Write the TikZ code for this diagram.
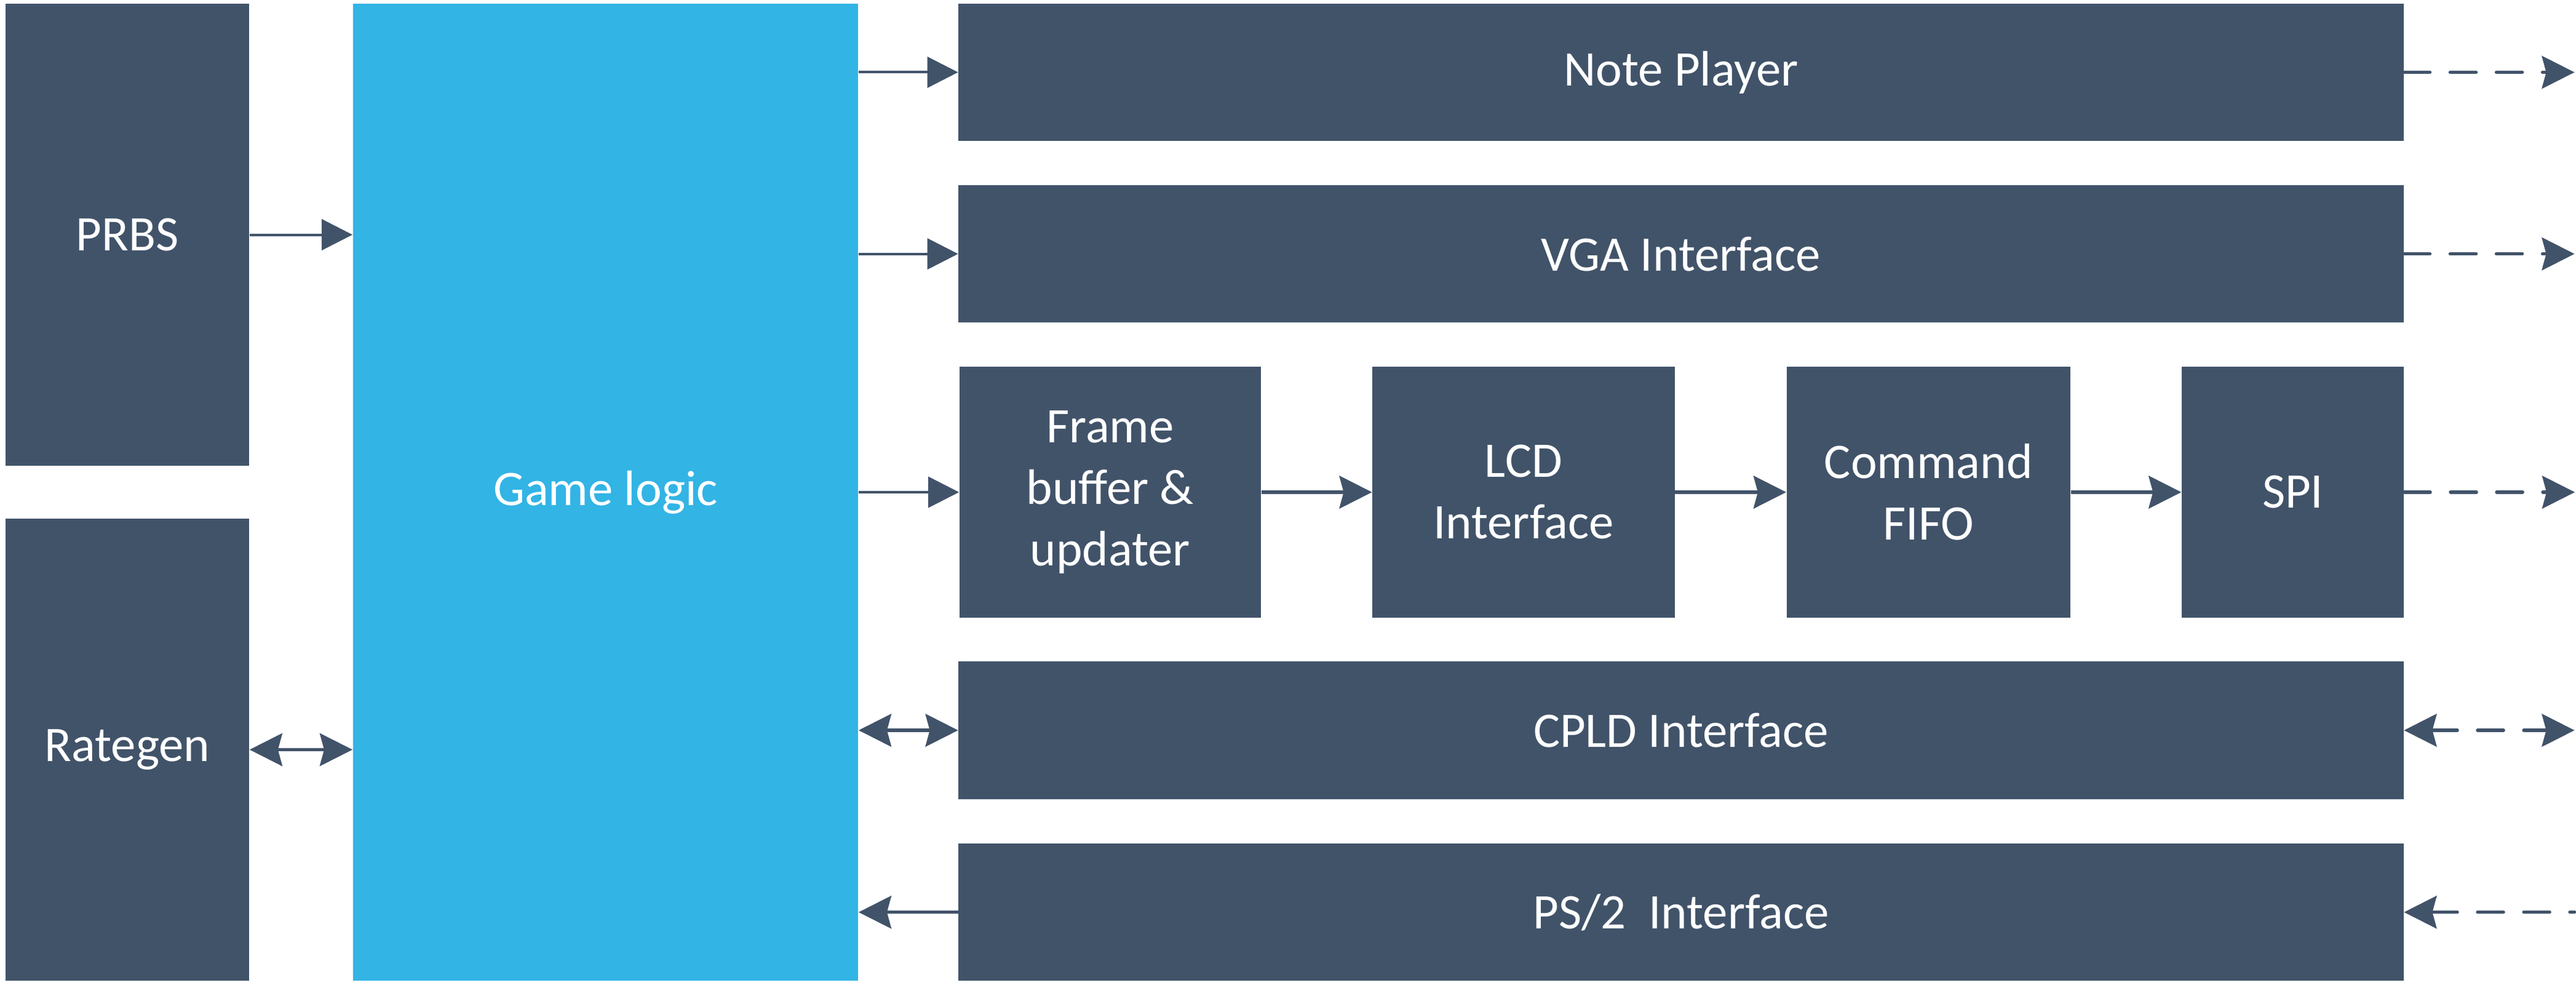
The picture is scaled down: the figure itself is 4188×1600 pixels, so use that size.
\documentclass[tikz,border=0pt]{standalone}
\usepackage{fontspec}
\setmainfont{Carlito}
\usepackage{tikz}
\usetikzlibrary{arrows.meta,positioning}
\definecolor{slate}{RGB}{65,83,105}
\definecolor{sky}{RGB}{50,180,229}
\tikzstyle{block} =
  [rectangle, fill=slate, text=white, inner sep=0pt, align=center,
   font=\fontsize{23}{28.45}\selectfont]
\tikzstyle{row} = [block, minimum width=23.48cm, minimum height=2.23cm]
\tikzstyle{stage} = [block, minimum height=4.08cm]
\tikzstyle{arrow}=[draw,slate,line width=0.04cm,-{Triangle[length=0.5cm,width=0.5cm]}]
\tikzstyle{link}=[draw,slate,line width=0.055cm,
  -{Stealth[length=0.53cm,width=0.53cm,inset=0.07cm]}]
\tikzstyle{twoway}=[link,{Stealth[length=0.53cm,width=0.53cm,inset=0.07cm]}-{Stealth[length=0.53cm,width=0.53cm,inset=0.07cm]}]
\tikzstyle{extern}=[link,dash pattern=on 0.42cm off 0.33cm,line cap=round]

\begin{document}
\begin{tikzpicture}[x=0.01cm, y=-0.01cm]
  \useasboundingbox (0,0) rectangle (4188,1600);

  \node [block, minimum width=3.96cm, minimum height=7.51cm] at (207,381.5) (prbs) {PRBS};
  \node [block, minimum width=3.96cm, minimum height=7.51cm] at (207,1218.5) (rategen) {Rategen};
  \node [block, fill=sky, minimum width=8.21cm, minimum height=15.88cm] at (984.5,800) (game) {Game logic};

  \node [row] at (2733,117.5) (note) {Note Player};
  \node [row, below of=note, node distance=2.95cm] (vga) {VGA Interface};
  \node [stage, minimum width=4.9cm] at (1805,800) (frame) {Frame\\buffer \&\\updater};
  \node [stage, minimum width=4.91cm, right of=frame, node distance=6.715cm] (lcd) {LCD\\Interface};
  \node [stage, minimum width=4.61cm, right of=lcd, node distance=6.58cm] (cmd) {Command\\FIFO};
  \node [stage, minimum width=3.61cm, right of=cmd, node distance=5.92cm] (spi) {SPI};
  \node [row] at (2733,1187) (cpld) {CPLD Interface};
  \node [row, below of=cpld, node distance=2.955cm] (ps2) {PS/2\ \ Interface};

  \foreach \n in {note,vga,spi,cpld,ps2}
    \coordinate [right=2.77cm of \n.east] (\n-out);

  \draw [arrow] (prbs.east) -- (prbs.east -| game.west);
  \draw [twoway] (rategen.east) -- (rategen.east -| game.west);

  \draw [arrow] (game.east |- note.west) -- (note.west);
  \draw [arrow] (game.east |- vga.west) -- (vga.west);
  \draw [arrow] (game.east |- frame.west) -- (frame.west);
  \draw [twoway] (game.east |- cpld.west) -- (cpld.west);
  \draw [link] (ps2.west) -- (game.east |- ps2.west);

  \draw [link] (frame) -- (lcd);
  \draw [link] (lcd) -- (cmd);
  \draw [link] (cmd) -- (spi);

  \draw [extern] (note.east) -- (note-out);
  \draw [extern] (vga.east) -- (vga-out);
  \draw [extern] (spi.east) -- (spi-out);
  \draw [extern,{Stealth[length=0.53cm,width=0.53cm,inset=0.07cm]}-{Stealth[length=0.53cm,width=0.53cm,inset=0.07cm]}] (cpld.east) -- (cpld-out);
  \draw [extern,{Stealth[length=0.53cm,width=0.53cm,inset=0.07cm]}-] (ps2.east) -- (ps2-out);
\end{tikzpicture}
\end{document}
